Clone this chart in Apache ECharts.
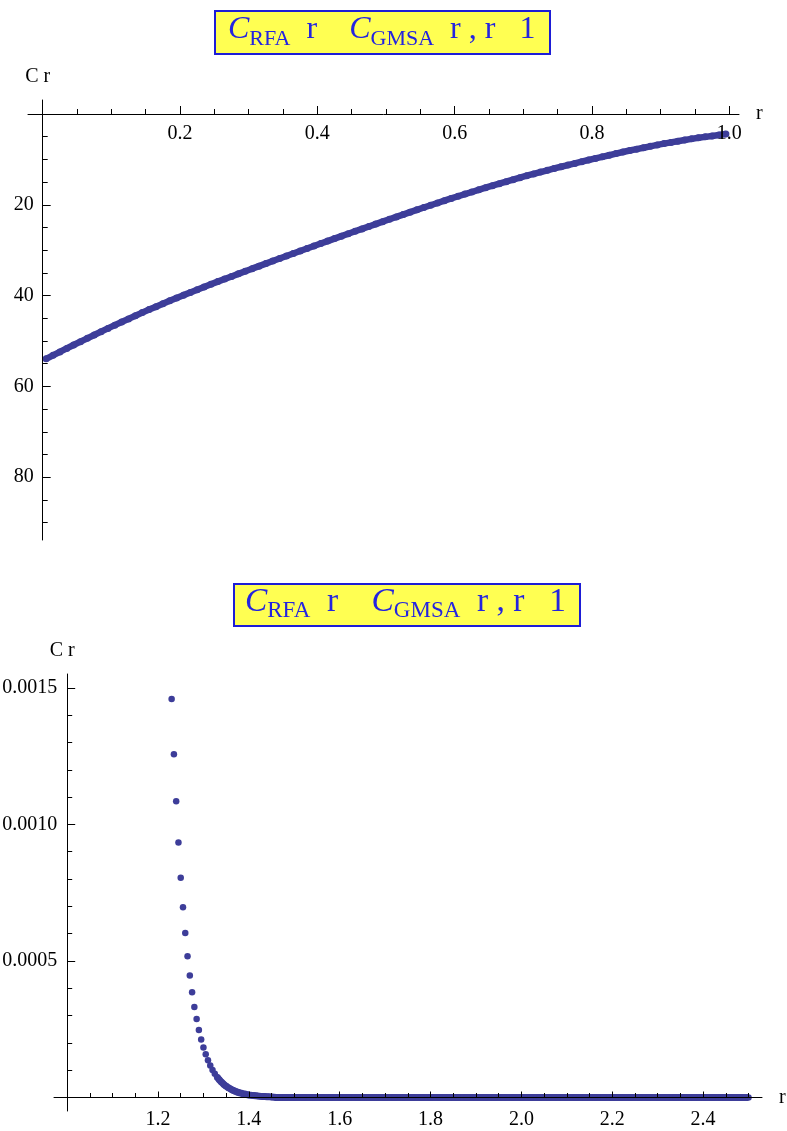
<!DOCTYPE html>
<html>
<head>
<meta charset="utf-8">
<title>C_RFA(r) - C_GMSA(r)</title>
<script src="https://cdn.jsdelivr.net/npm/echarts@6/dist/echarts.min.js"></script>
<style>
  html, body { margin: 0; padding: 0; background: #ffffff; }
  #chart { width: 787px; height: 1131px; }
</style>
</head>
<body>
<div id="chart"></div>
<script>
// ---------- upper panel: r < 1 (y axis runs downward) ----------
const rTop = [
  0.005, 0.015, 0.025, 0.035, 0.045, 0.055, 0.065, 0.075, 0.085, 0.095,
  0.105, 0.115, 0.125, 0.135, 0.145, 0.155, 0.165, 0.175, 0.185, 0.195,
  0.205, 0.215, 0.225, 0.235, 0.245, 0.255, 0.265, 0.275, 0.285, 0.295,
  0.305, 0.315, 0.325, 0.335, 0.345, 0.355, 0.365, 0.375, 0.385, 0.395,
  0.405, 0.415, 0.425, 0.435, 0.445, 0.455, 0.465, 0.475, 0.485, 0.495,
  0.505, 0.515, 0.525, 0.535, 0.545, 0.555, 0.565, 0.575, 0.585, 0.595,
  0.605, 0.615, 0.625, 0.635, 0.645, 0.655, 0.665, 0.675, 0.685, 0.695,
  0.705, 0.715, 0.725, 0.735, 0.745, 0.755, 0.765, 0.775, 0.785, 0.795,
  0.805, 0.815, 0.825, 0.835, 0.845, 0.855, 0.865, 0.875, 0.885, 0.895,
  0.905, 0.915, 0.925, 0.935, 0.945, 0.955, 0.965, 0.975, 0.985, 0.995
];
const cTop = [
  53.92, 53.16, 52.40, 51.64, 50.88, 50.14, 49.41, 48.68, 47.95, 47.22,
  46.51, 45.82, 45.13, 44.44, 43.75, 43.08, 42.44, 41.80, 41.16, 40.52,
  39.90, 39.30, 38.70, 38.10, 37.50, 36.92, 36.35, 35.78, 35.21, 34.64,
  34.07, 33.51, 32.95, 32.39, 31.83, 31.28, 30.73, 30.18, 29.63, 29.08,
  28.53, 27.99, 27.45, 26.91, 26.37, 25.84, 25.31, 24.78, 24.25, 23.72,
  23.19, 22.67, 22.15, 21.63, 21.11, 20.60, 20.10, 19.60, 19.10, 18.60,
  18.12, 17.65, 17.18, 16.71, 16.24, 15.78, 15.34, 14.90, 14.46, 14.02,
  13.60, 13.20, 12.80, 12.40, 12.00, 11.62, 11.25, 10.88, 10.51, 10.14,
  9.78, 9.43, 9.08, 8.73, 8.38, 8.05, 7.74, 7.43, 7.12, 6.81,
  6.52, 6.26, 6.00, 5.74, 5.48, 5.25, 5.04, 4.83, 4.62, 4.41
];
const topXMajor = [0.2, 0.4, 0.6, 0.8, 1.0];
const topXMinor = [0.05, 0.1, 0.15, 0.2, 0.25, 0.3, 0.35, 0.4, 0.45, 0.5,
                   0.55, 0.6, 0.65, 0.7, 0.75, 0.8, 0.85, 0.9, 0.95, 1.0];
const topYMajor = [20, 40, 60, 80];
const topYMinor = [5, 10, 15, 20, 25, 30, 35, 40, 45, 50, 55, 60, 65, 70, 75, 80, 85, 90];

// ---------- lower panel: r >= 1 ----------
const rNear = [
  1.230, 1.235, 1.240, 1.245, 1.250, 1.255, 1.260, 1.265, 1.270, 1.275,
  1.280, 1.285, 1.290, 1.295, 1.300, 1.305, 1.310, 1.315, 1.320, 1.325,
  1.330, 1.335, 1.340, 1.345, 1.350, 1.355, 1.360, 1.365, 1.370, 1.375,
  1.380, 1.385, 1.390, 1.395, 1.400, 1.405, 1.410, 1.415, 1.420, 1.425,
  1.430, 1.435, 1.440, 1.445, 1.450
];
const cNear = [
  0.001459, 0.001257, 0.001085, 0.000934, 0.000805, 0.000697, 0.000602, 0.000517, 0.000447, 0.000385,
  0.000331, 0.000287, 0.000247, 0.000212, 0.000183, 0.000158, 0.000136, 0.000117, 0.000101, 0.0000870,
  0.0000750, 0.0000645, 0.0000556, 0.0000479, 0.0000413, 0.0000356, 0.0000307, 0.0000264, 0.0000228, 0.0000196,
  0.0000169, 0.0000146, 0.0000126, 0.0000108, 0.0000093, 0.0000080, 0.0000069, 0.0000060, 0.0000051, 0.0000044,
  0.0000038, 0.0000033, 0.0000028, 0.0000024, 0.0000021
];
const rTail = [
  1.46, 1.48, 1.50, 1.52, 1.54, 1.56, 1.58, 1.60, 1.62, 1.64,
  1.66, 1.68, 1.70, 1.72, 1.74, 1.76, 1.78, 1.80, 1.82, 1.84,
  1.86, 1.88, 1.90, 1.92, 1.94, 1.96, 1.98, 2.00, 2.02, 2.04,
  2.06, 2.08, 2.10, 2.12, 2.14, 2.16, 2.18, 2.20, 2.22, 2.24,
  2.26, 2.28, 2.30, 2.32, 2.34, 2.36, 2.38, 2.40, 2.42, 2.44,
  2.46, 2.48, 2.50
];
const cTail = [
  0, 0, 0, 0, 0, 0, 0, 0, 0, 0,
  0, 0, 0, 0, 0, 0, 0, 0, 0, 0,
  0, 0, 0, 0, 0, 0, 0, 0, 0, 0,
  0, 0, 0, 0, 0, 0, 0, 0, 0, 0,
  0, 0, 0, 0, 0, 0, 0, 0, 0, 0,
  0, 0, 0
];
const botXMajor = [1.2, 1.4, 1.6, 1.8, 2.0, 2.2, 2.4];
const botXMinor = [1.05, 1.1, 1.15, 1.2, 1.25, 1.3, 1.35, 1.4, 1.45, 1.5,
                   1.55, 1.6, 1.65, 1.7, 1.75, 1.8, 1.85, 1.9, 1.95, 2.0,
                   2.05, 2.1, 2.15, 2.2, 2.25, 2.3, 2.35, 2.4, 2.45, 2.5];
const botYMajor = [0.0005, 0.0010, 0.0015];
const botYMinor = [0.0001, 0.0002, 0.0003, 0.0004, 0.0005, 0.0006, 0.0007, 0.0008,
                   0.0009, 0.0010, 0.0011, 0.0012, 0.0013, 0.0014, 0.0015];

const titleText = '{c|C}{s|RFA}{t|  r    }{c|C}{s|GMSA}{t|  r , r   1}';
const yName = 'C r';
const xName = 'r';

// ---------- styling ----------
const SERIF = "'Liberation Serif', 'Times New Roman', 'DejaVu Serif', serif";
const DOT = '#3d3d99';
const TITLE_BLUE = '#2424e0';
const TITLE_BORDER = '#1d1dd6';
const TITLE_FILL = '#ffff52';

function titleRich(k) {
  const base = { fontFamily: SERIF, fontWeight: 'normal', color: TITLE_BLUE };
  return {
    c: Object.assign({ fontStyle: 'italic', fontSize: 32 * k, lineHeight: 40 * k }, base),
    s: Object.assign({ fontSize: 22 * k, lineHeight: 26 * k, verticalAlign: 'bottom' }, base),
    t: Object.assign({ fontSize: 32 * k, lineHeight: 40 * k }, base)
  };
}

const labelFont = { fontFamily: SERIF, fontSize: 20, color: '#000' };
const lineStyle = { color: '#000', width: 1 };

// major axis: line, long ticks and labels
function majorAxis(o) {
  return Object.assign({
    type: 'value', z: 3,
    splitLine: { show: false },
    axisLine: { show: true, lineStyle: lineStyle, onZero: false },
    axisTick: { show: true, inside: o.tickInside, length: o.tickLen, customValues: o.ticks, lineStyle: lineStyle },
    axisLabel: Object.assign({ show: true, inside: !!o.labelInside, customValues: o.ticks, margin: o.margin, formatter: o.fmt }, labelFont),
    nameTextStyle: Object.assign({}, labelFont, o.nameStyle || {})
  }, o.base);
}
// companion axis carrying only the short ticks
function minorAxis(o) {
  return Object.assign({
    type: 'value', z: 3,
    splitLine: { show: false },
    axisLine: { show: false, onZero: false },
    axisTick: { show: true, inside: o.tickInside, length: o.tickLen, customValues: o.ticks, lineStyle: lineStyle },
    axisLabel: { show: false }
  }, o.base);
}

const topRange = { x: -0.0214, X: 1.0141, y: -3.08, Y: 93.83 };
const botRange = { x: 0.971, X: 2.5297, y: -0.0000495, Y: 0.001551 };

// axis lines sit on r = 0 / C = 0 (upper) and r = 1 / C = 0 (lower)
const topXOff = -14;     // C = 0 line below the grid top
const topYOff = -14.7;   // r = 0 line right of the grid left
const botXOff = -13.5;   // C = 0 line above the grid bottom
const botYOff = -13.2;   // r = 1 line right of the grid left

const option = {
  backgroundColor: '#ffffff',
  animation: false,
  title: [
    {
      left: 215, top: 7,
      text: titleText,
      textStyle: { rich: titleRich(1) },
      backgroundColor: TITLE_FILL, borderColor: TITLE_BORDER, borderWidth: 2,
      padding: [3, 15, 4, 13]
    },
    {
      left: 234, top: 579,
      text: titleText,
      textStyle: { rich: titleRich(1.045) },
      backgroundColor: TITLE_FILL, borderColor: TITLE_BORDER, borderWidth: 2,
      padding: [2, 14, 3, 11]
    }
  ],
  grid: [
    { left: 28, top: 100, width: 711, height: 440, containLabel: false, outerBoundsMode: 'none' },
    { left: 54, top: 674, width: 708, height: 437, containLabel: false, outerBoundsMode: 'none' }
  ],
  xAxis: [
    majorAxis({
      base: { gridIndex: 0, position: 'top', offset: topXOff, min: topRange.x, max: topRange.X,
              name: xName, nameLocation: 'end', nameGap: 17 },
      tickInside: false, labelInside: true, tickLen: 8, ticks: topXMajor, margin: 10,
      fmt: v => v.toFixed(1)
    }),
    minorAxis({
      base: { gridIndex: 0, position: 'top', offset: topXOff, min: topRange.x, max: topRange.X },
      tickInside: false, tickLen: 5, ticks: topXMinor
    }),
    majorAxis({
      base: { gridIndex: 1, position: 'bottom', offset: botXOff, min: botRange.x, max: botRange.X,
              name: xName, nameLocation: 'end', nameGap: 17 },
      tickInside: true, tickLen: 6, ticks: botXMajor, margin: 12,
      fmt: v => v.toFixed(1)
    }),
    minorAxis({
      base: { gridIndex: 1, position: 'bottom', offset: botXOff, min: botRange.x, max: botRange.X },
      tickInside: true, tickLen: 4.5, ticks: botXMinor
    })
  ],
  yAxis: [
    majorAxis({
      base: { gridIndex: 0, position: 'left', offset: topYOff, inverse: true, min: topRange.y, max: topRange.Y,
              name: yName, nameLocation: 'start', nameGap: 13 },
      nameStyle: { align: 'center', verticalAlign: 'bottom', padding: [0, 10, 0, 0] },
      tickInside: true, tickLen: 8, ticks: topYMajor, margin: 9,
      fmt: v => String(Math.round(v))
    }),
    minorAxis({
      base: { gridIndex: 0, position: 'left', offset: topYOff, inverse: true, min: topRange.y, max: topRange.Y },
      tickInside: true, tickLen: 5, ticks: topYMinor
    }),
    majorAxis({
      base: { gridIndex: 1, position: 'left', offset: botYOff, min: botRange.y, max: botRange.Y,
              name: yName, nameLocation: 'end', nameGap: 13 },
      nameStyle: { align: 'center', verticalAlign: 'bottom', padding: [0, 10, 0, 0] },
      tickInside: true, tickLen: 8, ticks: botYMajor, margin: 10,
      fmt: v => v.toFixed(4)
    }),
    minorAxis({
      base: { gridIndex: 1, position: 'left', offset: botYOff, min: botRange.y, max: botRange.Y },
      tickInside: true, tickLen: 5, ticks: botYMinor
    })
  ],
  series: [
    {
      type: 'line', xAxisIndex: 0, yAxisIndex: 0,
      data: rTop.map((r, i) => [r, cTop[i]]),
      symbol: 'circle', symbolSize: 7, showSymbol: true,
      itemStyle: { color: DOT },
      lineStyle: { color: DOT, width: 6.5 },
      silent: true, z: 2
    },
    {
      // dense stretch where the dots merge into a band
      type: 'line', xAxisIndex: 2, yAxisIndex: 2,
      data: rNear.map((r, i) => [r, cNear[i]]).filter(p => p[0] >= 1.33)
              .concat(rTail.map((r, i) => [r, cTail[i]])),
      showSymbol: false,
      lineStyle: { color: DOT, width: 7 },
      silent: true, z: 2
    },
    {
      type: 'scatter', xAxisIndex: 2, yAxisIndex: 2,
      data: rNear.map((r, i) => [r, cNear[i]]).concat(rTail.map((r, i) => [r, cTail[i]])),
      symbol: 'circle', symbolSize: 6.5,
      itemStyle: { color: DOT, opacity: 1 },
      silent: true, z: 2
    }
  ]
};

const chart = echarts.init(document.getElementById('chart'), null, { renderer: 'canvas' });
chart.setOption(option);
</script>
</body>
</html>
